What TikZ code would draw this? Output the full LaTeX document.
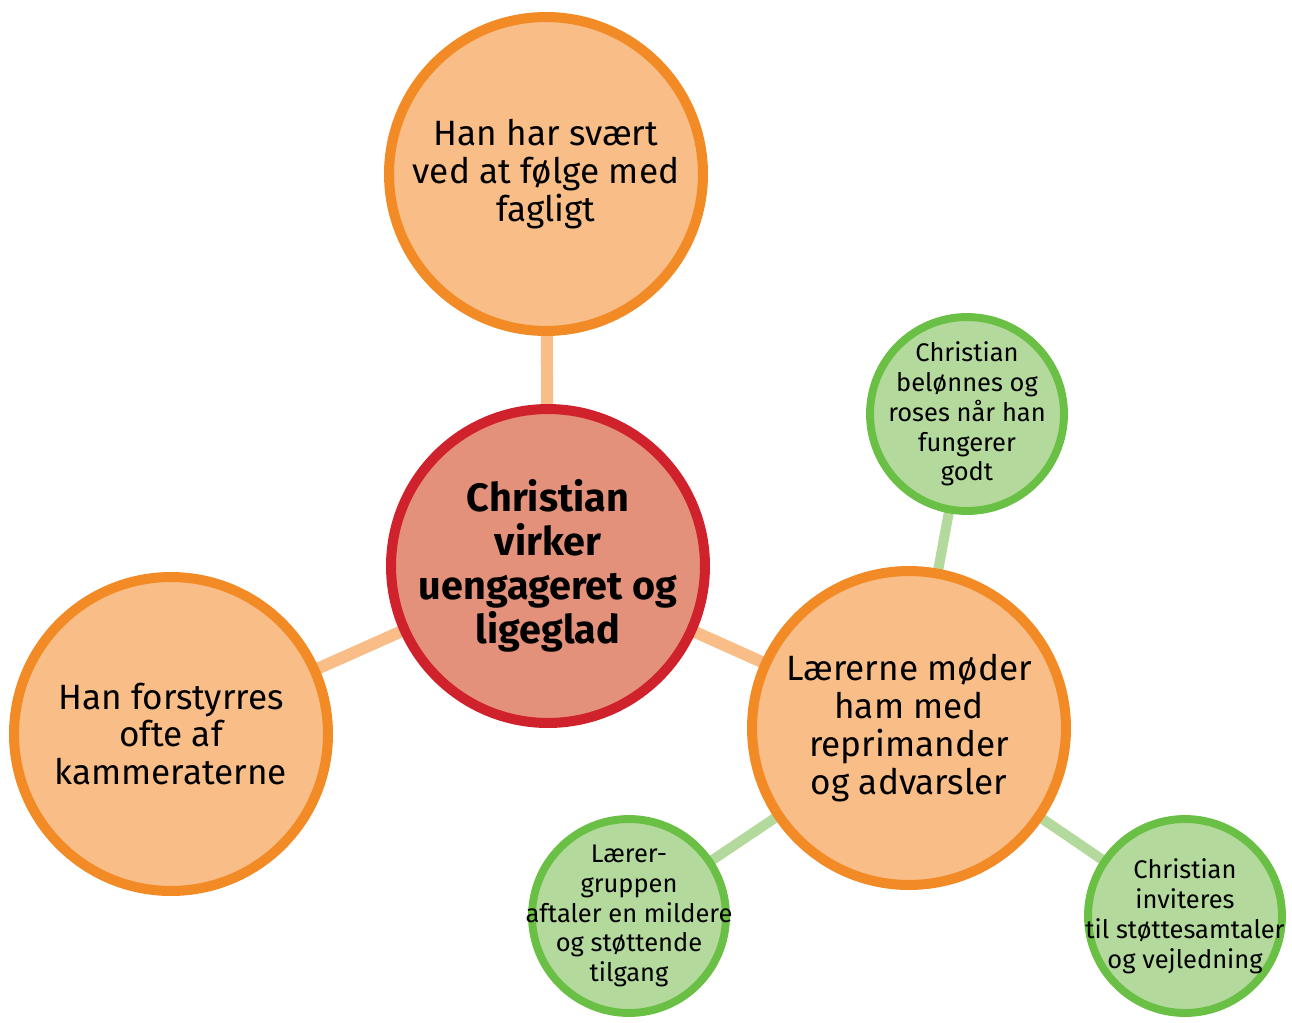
\documentclass[tikz,border=0pt]{standalone}
\usepackage{fontspec}
\setmainfont{Fira Sans}
\usetikzlibrary{backgrounds}
\definecolor{orBorder}{HTML}{F28A25}
\definecolor{orFill}{HTML}{F9BD87}
\definecolor{redBorder}{HTML}{D0222C}
\definecolor{redFill}{HTML}{E3917A}
\definecolor{grBorder}{HTML}{6ABF45}
\definecolor{grFill}{HTML}{B4D99C}
\tikzset{
  bigtxt/.style={align=center, font=\fontsize{20}{21.6}\selectfont},
  centertxt/.style={align=center, font=\fontsize{22.5}{25}\selectfont\bfseries},
  smalltxt/.style={align=center, font=\fontsize{14.5}{17}\selectfont},
  bigcirc/.style={circle, draw=orBorder, fill=orFill, line width=5.7pt, minimum size=6.28cm, inner sep=0pt},
  centercirc/.style={circle, draw=redBorder, fill=redFill, line width=5.7pt, minimum size=6.28cm, inner sep=0pt},
  smallcirc/.style={circle, draw=grBorder, fill=grFill, line width=4.5pt, minimum size=3.88cm, inner sep=0pt},
  orlink/.style={draw=orFill, line width=6.8pt},
  grlink/.style={draw=grFill, line width=5.7pt}
}
\begin{document}
\begin{tikzpicture}[x=0.02cm, y=-0.02cm]
\useasboundingbox (0,0) rectangle (1292,1022);
\node[centercirc, label={[centertxt]center:Christian\\virker\\uengageret og\\ligeglad}] (c) at (548,566) {};
\node[bigcirc, label={[bigtxt]center:Han har svært\\ved at følge med\\fagligt}] (t) at (546,174) {};
\node[bigcirc, label={[bigtxt]center:Han forstyrres\\ofte af\\kammeraterne}] (l) at (171,734) {};
\node[bigcirc, label={[bigtxt]center:Lærerne møder\\ham med\\reprimander\\og advarsler}] (r) at (909,728) {};
\node[smallcirc, label={[smalltxt]center:Christian\\belønnes og\\roses når han\\fungerer\\godt}] (g1) at (967,414) {};
\node[smallcirc, label={[smalltxt]center:Lærer-\\gruppen\\aftaler en mildere\\og støttende\\tilgang}] (g2) at (629,916) {};
\node[smallcirc, label={[smalltxt]center:Christian\\inviteres\\til støttesamtaler\\og vejledning}] (g3) at (1185,916) {};
\begin{pgfonlayer}{background}
\draw[orlink] (c.center) -- (t.center);
\draw[orlink] (c.center) -- (l.center);
\draw[orlink] (c.center) -- (r.center);
\draw[grlink] (r.center) -- (g1.center);
\draw[grlink] (r.center) -- (g2.center);
\draw[grlink] (r.center) -- (g3.center);
\end{pgfonlayer}
\end{tikzpicture}
\end{document}
